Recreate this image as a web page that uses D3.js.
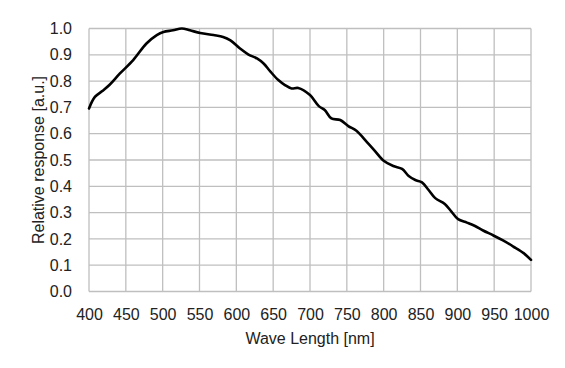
<!DOCTYPE html>
<html><head><meta charset="utf-8">
<script src="https://cdn.jsdelivr.net/npm/d3@7"></script>
<style>body{margin:0;background:#fff}svg{display:block}</style>
</head><body>
<script>
const wavelengths = [400,408,418,428,442,460,478,492,501,514,526,537,551,569,582,592,605,616,628,637,646,657,666,675,684,700,712,720,729,741,752,763,777,788,800,813,825,834,843,852,861,870,883,892,901,913,924,935,949,962,976,990,1000];
const responses   = [0.696,0.74,0.762,0.786,0.829,0.88,0.943,0.975,0.987,0.993,1.0,0.993,0.983,0.975,0.968,0.955,0.924,0.902,0.886,0.867,0.837,0.804,0.785,0.772,0.774,0.747,0.705,0.69,0.658,0.652,0.629,0.611,0.569,0.535,0.497,0.477,0.466,0.439,0.424,0.415,0.386,0.355,0.333,0.304,0.275,0.262,0.249,0.232,0.213,0.194,0.171,0.146,0.12];
const xTicks = [400,450,500,550,600,650,700,750,800,850,900,950,1000];
const yTicks = [0,0.1,0.2,0.3,0.4,0.5,0.6,0.7,0.8,0.9,1.0];
const xLabel = "Wave Length [nm]";
const yLabel = "Relative response [a.u.]";

const W = 565, H = 368;
const m = {left:89, right:34, top:28.5, bottom:76.5};
const svg = d3.select("body").append("svg").attr("width",W).attr("height",H);
const x = d3.scaleLinear().domain([400,1000]).range([m.left, W-m.right]);
const y = d3.scaleLinear().domain([0,1]).range([H-m.bottom, m.top]);
const font = "'Liberation Sans', Arial, sans-serif";
const grid = "#bfbfbf";
const fs = 16;

// grid
svg.append("g").selectAll("line").data(xTicks).join("line")
  .attr("x1",d=>x(d)).attr("x2",d=>x(d)).attr("y1",y(0)).attr("y2",y(1))
  .attr("stroke",grid).attr("stroke-width",1.3);
svg.append("g").selectAll("line").data(yTicks).join("line")
  .attr("y1",d=>y(d)).attr("y2",d=>y(d)).attr("x1",x(400)).attr("x2",x(1000))
  .attr("stroke",grid).attr("stroke-width",1.3);

// axes labels via d3 axes
const xAxis = svg.append("g").attr("transform",`translate(0,${y(0)})`)
  .call(d3.axisBottom(x).tickValues(xTicks).tickSize(0).tickPadding(17).tickFormat(d3.format("d")));
const yAxis = svg.append("g").attr("transform",`translate(${x(400)},0)`)
  .call(d3.axisLeft(y).tickValues(yTicks).tickSize(0).tickPadding(17).tickFormat(d3.format(".1f")));
[xAxis,yAxis].forEach(a=>{
  a.select(".domain").remove();
  a.selectAll("text").attr("font-family",font).attr("font-size",fs).attr("fill","#222");
});

// line
svg.append("path").datum(wavelengths.map((w,i)=>[w,responses[i]]))
  .attr("fill","none").attr("stroke","#000").attr("stroke-width",2.6)
  .attr("stroke-linejoin","round").attr("stroke-linecap","round")
  .attr("d", d3.line().x(d=>x(d[0])).y(d=>y(d[1])).curve(d3.curveCatmullRom.alpha(0.5)));

svg.append("text").attr("x",(x(400)+x(1000))/2).attr("y",343.5)
  .attr("text-anchor","middle").attr("font-family",font).attr("font-size",fs).attr("fill","#222").text(xLabel);
svg.append("text").attr("transform",`translate(43.5,${(y(0)+y(1))/2}) rotate(-90)`)
  .attr("text-anchor","middle").attr("font-family",font).attr("font-size",fs).attr("fill","#222").text(yLabel);
</script>
</body></html>
